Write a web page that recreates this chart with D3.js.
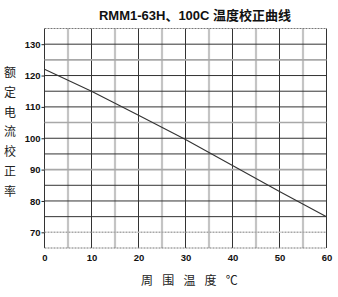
<!DOCTYPE html>
<html>
<head>
<meta charset="utf-8">
<script src="https://cdn.jsdelivr.net/npm/d3@7"></script>
<style>
  body { margin: 0; background: #fff; }
  svg { display: block; }
</style>
</head>
<body>
<svg width="338" height="297"></svg>
<script>
// données
const temps = [0, 10, 20, 30, 40, 50, 60];
const rates = [122, 115, 107.3, 99.6, 91.3, 83, 75];
const xTicks = [0, 10, 20, 30, 40, 50, 60];
const yTicks = [70, 80, 90, 100, 110, 120, 130];
const grayRows = [125, 105, 90, 70];
const title = "RMM1-63H、100C 温度校正曲线";
const yTitle = ["额", "定", "电", "流", "校", "正", "率"];
const xTitle = ["周", "围", "温", "度", "℃"];

const svg = d3.select("svg");
const x = d3.scaleLinear().domain([0, 60]).range([44.5, 326.5]);
const y = d3.scaleLinear().domain([65, 135]).range([248, 28.5]);

// grille verticale
const vLines = d3.range(0, 61, 5);
svg.append("g").selectAll("line")
  .data(vLines)
  .enter()
  .append("line")
  .attr("x1", d => x(d)).attr("x2", d => x(d))
  .attr("y1", y(135)).attr("y2", y(65))
  .attr("stroke", d => d % 10 === 0 ? "#333" : "#c4c4c4")
  .attr("stroke-width", d => d % 10 === 0 ? 1 : 2.2);

// grille horizontale
const hLines = d3.range(65, 136, 5);
svg.append("g").selectAll("line")
  .data(hLines)
  .enter()
  .append("line")
  .attr("x1", x(0)).attr("x2", x(60))
  .attr("y1", d => y(d)).attr("y2", d => y(d))
  .attr("stroke", d => grayRows.includes(d) ? "#a8a8a8" : (d === 65 || d === 135 ? "#777" : "#333"))
  .attr("stroke-width", d => grayRows.includes(d) ? 1.6 : 1)
  .attr("stroke-dasharray", d => (d === 65 || d === 135 || d === 70) ? "2,1" : null);

// axes
svg.append("g")
  .attr("transform", `translate(${x(0)},0)`)
  .call(d3.axisLeft(y).tickValues(yTicks).tickSize(3).tickSizeOuter(0))
  .call(g => g.select(".domain").remove())
  .call(g => g.selectAll("line").attr("stroke", "#222"))
  .selectAll("text")
  .attr("x", -4)
  .attr("font-family", "Liberation Sans, Arial, sans-serif")
  .attr("font-weight", "bold")
  .attr("font-size", "9.5px")
  .attr("fill", "#111");

svg.append("g")
  .attr("transform", `translate(0,${y(65)})`)
  .call(d3.axisBottom(x).tickValues(xTicks).tickSize(0).tickSizeOuter(0))
  .call(g => g.select(".domain").remove())
  .selectAll("text")
  .attr("y", 6)
  .attr("font-family", "Liberation Sans, Arial, sans-serif")
  .attr("font-weight", "bold")
  .attr("font-size", "9.5px")
  .attr("fill", "#111");

// courbe
const line = d3.line().x((d, i) => x(temps[i])).y(d => y(d));
svg.append("path")
  .datum(rates)
  .attr("d", line)
  .attr("fill", "none")
  .attr("stroke", "#333")
  .attr("stroke-width", 1.1);

// titre
svg.append("text")
  .attr("x", 195).attr("y", 20)
  .attr("text-anchor", "middle")
  .attr("font-family", "Liberation Sans, Noto Sans CJK SC, sans-serif")
  .attr("font-weight", "bold")
  .attr("font-size", "13px")
  .attr("fill", "#111")
  .text(title);

// titre vertical
svg.append("g").selectAll("text")
  .data(yTitle)
  .enter()
  .append("text")
  .attr("x", 10)
  .attr("y", (d, i) => 77 + i * 19.8)
  .attr("text-anchor", "middle")
  .attr("font-family", "Noto Sans CJK SC, sans-serif")
  .attr("font-size", "12px")
  .attr("fill", "#222")
  .text(d => d);

// titre horizontal
svg.append("g").selectAll("text")
  .data(xTitle)
  .enter()
  .append("text")
  .attr("x", (d, i) => 147 + i * 21.2)
  .attr("y", 285)
  .attr("text-anchor", "middle")
  .attr("font-family", "Noto Sans CJK SC, sans-serif")
  .attr("font-size", "12px")
  .attr("fill", "#222")
  .text(d => d);
</script>
</body>
</html>
